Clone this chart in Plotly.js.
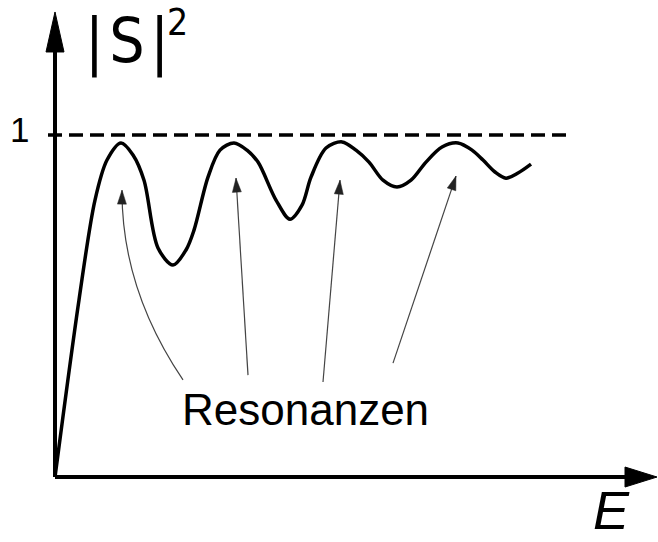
<!DOCTYPE html>
<html>
<head>
<meta charset="utf-8">
<script src="https://cdn.plot.ly/plotly-3.0.1.min.js"></script>
<style>html,body{margin:0;padding:0;background:#fff;}#plot{width:658px;height:542px;}</style>
</head>
<body>
<div id="plot"></div>
<script>
// ---- data (arbitrary units: E horizontal, |S|^2 vertical, 1 = unitarity limit) ----
const energy = [0, 0.24, 0.40, 0.52, 0.66, 0.78, 0.89, 1.03, 1.18, 1.31, 1.39, 1.53, 1.65, 1.79, 1.92, 2.03, 2.21, 2.35, 2.47, 2.56, 2.71, 2.87, 3.01, 3.14, 3.28, 3.42, 3.56, 3.71, 3.87, 4.03, 4.17, 4.28, 4.40, 4.51, 4.63, 4.76];
const sSquared = [0, 0.518, 0.810, 0.927, 0.977, 0.942, 0.868, 0.670, 0.620, 0.664, 0.722, 0.877, 0.956, 0.977, 0.956, 0.921, 0.810, 0.754, 0.795, 0.877, 0.962, 0.980, 0.956, 0.921, 0.868, 0.848, 0.868, 0.921, 0.965, 0.977, 0.956, 0.927, 0.892, 0.874, 0.889, 0.915];
const unitLimit = 1;
const limitStart = -0.07, limitEnd = 5.15;
// resonance pointers: [tailE, tailS, tipE, tipS, ctrlE|null, ctrlS|null]
const resonanceArrows = [
  [1.28, 0.284, 0.67, 0.839, 0.665, 0.550],
  [1.93, 0.298, 1.81, 0.874, null, null],
  [2.68, 0.278, 2.85, 0.868, null, null],
  [3.38, 0.333, 4.01, 0.880, null, null]
];
const labelYBase = '|\u200AS\u200A|';
const labelYExp = '2';
const labelX = 'E';
const labelOne = '1';
const labelRes = 'Resonanzen';

// ---- geometry ----
const W = 658, H = 542;
const xRange = [-0.55, 6.03];
const yRange = [-0.190, 1.395];
const pxPerX = W / (xRange[1] - xRange[0]);
const pxPerY = H / (yRange[1] - yRange[0]);
const xAxisEnd = 6.02, yAxisEnd = 1.36;

const shapes = [];
// axes
shapes.push({type:'line', xref:'x', yref:'y', x0:0, y0:0, x1:xAxisEnd - 30/pxPerX, y1:0, line:{color:'#000', width:4}});
shapes.push({type:'line', xref:'x', yref:'y', x0:0, y0:0, x1:0, y1:yAxisEnd - 36/pxPerY, line:{color:'#000', width:4}});
// axis arrowheads (pixel-sized, anchored at tips)
shapes.push({type:'path', xref:'x', yref:'y', xsizemode:'pixel', ysizemode:'pixel', xanchor:xAxisEnd, yanchor:0,
  path:'M0,0 L-32,10 L-32,-10 Z', fillcolor:'#000', line:{color:'#000', width:1}});
shapes.push({type:'path', xref:'x', yref:'y', xsizemode:'pixel', ysizemode:'pixel', xanchor:0, yanchor:yAxisEnd,
  path:'M0,0 L-9,-40 L9,-40 Z', fillcolor:'#000', line:{color:'#000', width:1}});
// unitarity limit dashed line
shapes.push({type:'line', xref:'x', yref:'y', x0:limitStart, y0:unitLimit, x1:limitEnd, y1:unitLimit,
  line:{color:'#000', width:3.6, dash:'14px,7px'}});

// resonance arrows
resonanceArrows.forEach(a => {
  const [tx, ty, hx, hy, cx, cy] = a;
  let path;
  let fromX, fromY;
  if (cx !== null) {
    path = `M${tx},${ty} Q${cx},${cy} ${hx},${hy}`;
    fromX = cx; fromY = cy;
  } else {
    path = `M${tx},${ty} L${hx},${hy}`;
    fromX = tx; fromY = ty;
  }
  shapes.push({type:'path', xref:'x', yref:'y', path:path, line:{color:'#444', width:1.2}});
  // arrowhead direction in pixel space (y up)
  let dx = (hx - fromX) * pxPerX, dy = (hy - fromY) * pxPerY;
  const len = Math.hypot(dx, dy); dx /= len; dy /= len;
  const L = 14, hw = 4.5;
  const bx = -L * dx, by = -L * dy;
  const nx = -dy, ny = dx;
  const p = `M0,0 L${(bx + hw*nx).toFixed(2)},${(by + hw*ny).toFixed(2)} L${(bx - hw*nx).toFixed(2)},${(by - hw*ny).toFixed(2)} Z`;
  shapes.push({type:'path', xref:'x', yref:'y', xsizemode:'pixel', ysizemode:'pixel', xanchor:hx, yanchor:hy,
    path:p, fillcolor:'#222', line:{color:'#222', width:0.5}});
});

const fontMain = 'Liberation Sans, Arial, sans-serif';
const fontCond = 'Liberation Sans Narrow, DejaVu Sans Condensed, Liberation Sans, sans-serif';
const annotations = [
  {text:labelYBase, xref:'paper', yref:'paper', x:84/W, y:1 - 41/H, xanchor:'left', yanchor:'middle', showarrow:false,
   borderpad:0, font:{family:fontCond, size:62, color:'#000'}},
  {text:labelYExp, xref:'paper', yref:'paper', x:177/W, y:1 - 23/H, xanchor:'center', yanchor:'middle', showarrow:false,
   borderpad:0, font:{family:fontCond, size:37, color:'#000'}},
  {text:labelOne, xref:'paper', yref:'paper', x:19/W, y:1 - 130/H, xanchor:'center', yanchor:'middle', showarrow:false,
   font:{family:fontMain, size:35, color:'#000'}},
  {text:labelRes, xref:'paper', yref:'paper', x:305/W, y:1 - 409/H, xanchor:'center', yanchor:'middle', showarrow:false,
   font:{family:fontMain, size:44, color:'#000'}},
  {text:'<i>' + labelX + '</i>', xref:'paper', yref:'paper', x:611/W, y:0.002, xanchor:'center', yanchor:'bottom', showarrow:false,
   borderpad:0, font:{family:fontMain, size:54, color:'#000'}}
];

const trace = {
  x: energy, y: sSquared, type:'scatter', mode:'lines',
  line:{color:'#000', width:3.5, shape:'spline', smoothing:0.9},
  hoverinfo:'skip'
};

const layout = {
  width:W, height:H,
  margin:{l:0, r:0, t:0, b:0, pad:0},
  paper_bgcolor:'#fff', plot_bgcolor:'#fff',
  showlegend:false,
  xaxis:{range:xRange, visible:false, fixedrange:true},
  yaxis:{range:yRange, visible:false, fixedrange:true},
  shapes:shapes,
  annotations:annotations
};

Plotly.newPlot('plot', [trace], layout, {staticPlot:true, displayModeBar:false});
</script>
</body>
</html>
